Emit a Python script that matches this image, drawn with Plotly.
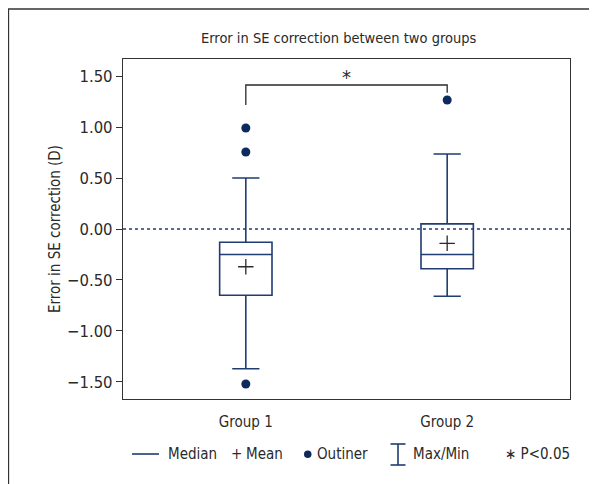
import plotly.graph_objects as go

groups = ["Group 1", "Group 2"]
q1 = [-0.65, -0.39]
median = [-0.25, -0.25]
q3 = [-0.13, 0.05]
lower = [-1.37, -0.66]
upper = [0.50, 0.735]
means = [-0.37, -0.14]
out_x = ["Group 1", "Group 1", "Group 1", "Group 2"]
out_y = [0.99, 0.755, -1.52, 1.265]
bracket_x = ["Group 1", "Group 1", "Group 2", "Group 2"]
bracket_y = [1.216, 1.412, 1.412, 1.336]
yticks = [-1.5, -1.0, -0.5, 0.0, 0.5, 1.0, 1.5]

FONT = "Liberation Sans Narrow, DejaVu Sans Condensed, Arial Narrow, sans-serif"
NAVY = "#1f3d70"
DOT = "#0c2a5b"
TXT = "#2a2a2a"

# page body has an 8px margin; figure placed at (8, 8)
OFF = 8
W, H = 597 - OFF, 484 - OFF
L, T = 123 - OFF, 59 - OFF
R = W - (570 - OFF)
B = H - (399 - OFF)
PW, PH = W - L - R, H - T - B

def px(x):
    return (x - OFF - L) / PW

def py(y):
    return (H - B - (y - OFF)) / PH

fig = go.Figure()
fig.add_trace(go.Box(
    x=groups, q1=q1, median=median, q3=q3, lowerfence=lower, upperfence=upper,
    boxpoints=False, width=0.26, whiskerwidth=0.52,
    line=dict(color=NAVY, width=1.6), fillcolor="white", showlegend=False,
    hoverinfo="skip"))
fig.add_trace(go.Scatter(
    x=groups, y=means, mode="markers", showlegend=False,
    marker=dict(symbol="cross-thin", size=11, line=dict(color=TXT, width=1.3))))
fig.add_trace(go.Scatter(
    x=out_x, y=out_y, mode="markers", showlegend=False,
    marker=dict(symbol="circle", size=9, color=DOT)))
fig.add_trace(go.Scatter(
    x=bracket_x, y=bracket_y, mode="lines", showlegend=False,
    line=dict(color=TXT, width=1.3)))

fig.add_annotation(x=0.5, y=1.412, xref="x", yref="y", text="*", showarrow=False,
                   font=dict(size=20, color=TXT, family=FONT), yanchor="bottom", yshift=-6)

# zero reference line
fig.add_shape(type="line", xref="paper", yref="y", x0=0, x1=1, y0=0, y1=0,
              line=dict(color=NAVY, width=1.5, dash="dot"))

# outer frame (cropped)
fig.add_shape(type="line", xref="paper", yref="paper", x0=px(8), x1=px(600), y0=py(9), y1=py(9),
              line=dict(color="#333", width=1.3))
fig.add_shape(type="line", xref="paper", yref="paper", x0=px(8.5), x1=px(8.5), y0=py(9), y1=py(490),
              line=dict(color="#333", width=1.3))

# title
fig.add_annotation(x=px(339), y=py(38), xref="paper", yref="paper", text="Error in SE correction between two groups",
                   showarrow=False, font=dict(size=14.5, color=TXT, family=FONT), xanchor="center", yanchor="middle")

# y-axis title
fig.add_annotation(x=px(55), y=py(229), xref="paper", yref="paper", text="Error in SE correction (D)",
                   showarrow=False, textangle=-90, font=dict(size=15, color=TXT, family=FONT),
                   xanchor="center", yanchor="middle")

# legend
ly = py(454)
fig.add_shape(type="line", xref="paper", yref="paper", x0=px(132), x1=px(159), y0=ly, y1=ly,
              line=dict(color=NAVY, width=1.6))
def ltext(x, s):
    fig.add_annotation(x=px(x), y=ly, xref="paper", yref="paper", text=s, showarrow=False,
                       font=dict(size=15, color=TXT, family=FONT), xanchor="left", yanchor="middle")
ltext(166, "Median")
ltext(229, "+")
ltext(244, "Mean")
fig.add_shape(type="circle", xref="paper", yref="paper", x0=px(304), x1=px(311.5), y0=py(450.5), y1=py(458),
              line=dict(color=DOT, width=0), fillcolor=DOT)
ltext(315, "Outiner")
fig.add_shape(type="line", xref="paper", yref="paper", x0=px(398), x1=px(398), y0=py(444), y1=py(465),
              line=dict(color=NAVY, width=1.6))
fig.add_shape(type="line", xref="paper", yref="paper", x0=px(390.5), x1=px(405.5), y0=py(444), y1=py(444),
              line=dict(color=NAVY, width=1.6))
fig.add_shape(type="line", xref="paper", yref="paper", x0=px(390.5), x1=px(405.5), y0=py(465), y1=py(465),
              line=dict(color=NAVY, width=1.6))
ltext(411, "Max/Min")
ltext(503, "∗ P&lt;0.05")

fig.update_layout(
    width=W, height=H, margin=dict(l=L, r=R, t=T, b=B),
    paper_bgcolor="white", plot_bgcolor="white",
    font=dict(family=FONT, size=15, color=TXT),
    xaxis=dict(range=[-0.61, 1.61], showgrid=False, zeroline=False, showline=True, mirror=True,
               linecolor="#333", linewidth=1.3, ticks="", ticklabelstandoff=9,
               tickfont=dict(size=15, color=TXT, family=FONT)),
    yaxis=dict(range=[-1.667, 1.667], showgrid=False, zeroline=False, showline=True, mirror=True,
               linecolor="#333", linewidth=1.3, ticks="outside", ticklen=6, tickcolor="#333",
               tickvals=yticks, tickformat=".2f", tickfont=dict(size=16.5, color=TXT, family=FONT)),
)

fig.write_html("out.html")
